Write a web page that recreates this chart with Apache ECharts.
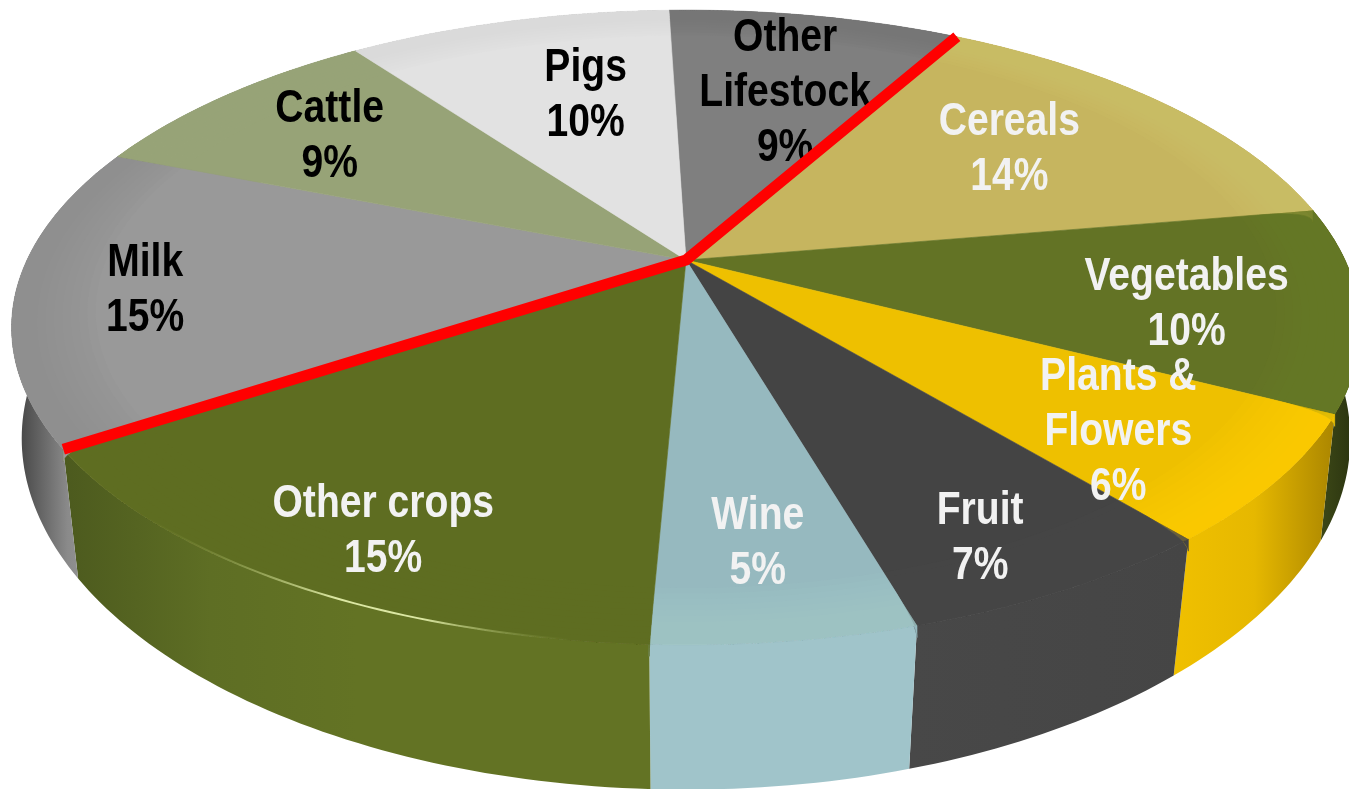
<!DOCTYPE html>
<html>
<head>
<meta charset="utf-8">
<title>Farm output shares</title>
<style>
    html, body { margin: 0; padding: 0; background: #fff; }
    #chart { width: 1349px; height: 789px; }
</style>
<script src="https://cdn.jsdelivr.net/npm/echarts@6/dist/echarts.min.js"></script>
</head>
<body>
<div id="chart"></div>
<script>
// slices run clockwise, starting at the top of the pie
var names = ['Other\nLifestock', 'Cereals', 'Vegetables', 'Plants &\nFlowers', 'Fruit', 'Wine', 'Other crops', 'Milk', 'Cattle', 'Pigs'];
var shares = [8.6, 14.2, 10.3, 6.4, 6.5, 5.2, 15.0, 15.3, 9.0, 9.5];

var topColors = ['#7f7f7f', '#c6b55f', '#637325', '#eec000', '#444444', '#96b9bf', '#5e6d21', '#999999', '#97a377', '#e2e2e2'];
var rimColors = ['#757575', '#d0bf6a', '#6b7d28', '#ffcc00', '#484848', '#a0c4ca', '#637324', '#8c8c8c', '#9ba77c', '#dcdcdc'];
var sideStops = [
    ['#777', '#777'],
    ['#b5a555', '#b5a555'],
    ['#44501a', '#27300e'],
    ['#f0c000', '#e6b800', '#ab8600'],
    ['#484848', '#454545'],
    ['#a0c4ca', '#a0c4ca'],
    ['#4c5a1e', '#5e6e24', '#637324', '#637324', '#637324'],
    ['#3c3c3c', '#8a8a8a', '#a8a8a8'],
    ['#888', '#888'],
    ['#ccc', '#ccc']
];
var labelColors = ['#000', '#f2f2f2', '#f2f2f2', '#f2f2f2', '#f2f2f2', '#f2f2f2', '#f2f2f2', '#000', '#000', '#000'];

// label placement on the unit disc: distance from the hub, clockwise degrees from the top
var labelRadius = [0.66, 0.67, 0.75, 0.77, 0.85, 0.78, 0.84, 0.81, 0.75, 0.65];
var labelAngle = [15, 52.7, 100.3, 130.4, 153.9, 173.3, 207.4, 263.6, 307.7, 344.6];

// the red divider follows these two slice boundaries
var dividerBoundaries = [7, 1];

var startAngle = -1.8;
var hub = [686, 260];
var scaleX = 659, scaleY = 303, tilt = 0.2126;
var depth = 114;

function project(deg, r) {
    var a = deg * Math.PI / 180;
    var u = Math.sin(a) * r, v = Math.cos(a) * r;
    var w = 1 + tilt * v;
    return [hub[0] + scaleX * u / w, hub[1] - scaleY * v / w];
}

function projectBase(deg) {
    var v = Math.cos(deg * Math.PI / 180);
    var p = project(deg, 1);
    var shrink = 0.99 + 0.025 * Math.min(v, 0);
    return [hub[0] + (p[0] - hub[0]) * shrink, p[1] + depth / (1 + tilt * v)];
}

var total = shares.reduce(function (s, x) { return s + x; }, 0);
var bounds = [startAngle];
shares.forEach(function (x, i) {
    bounds.push(bounds[i] + x / total * 360);
});

function arc(fn, from, to) {
    var pts = [], n = Math.max(2, Math.ceil(Math.abs(to - from)));
    for (var i = 0; i <= n; i++) {
        pts.push(fn(from + (to - from) * i / n));
    }
    return pts;
}

// ray from the hub to the rim, bending downwards where the edge rolls over
function edge(deg) {
    var rim = project(deg, 1);
    var pts = [hub.slice()];
    if (Math.cos(deg * Math.PI / 180) > 0.2) {
        pts.push(rim);
        return pts;
    }
    var p0 = project(deg, 0.91);
    var end = [rim[0], rim[1] + 12];
    for (var t = 0; t <= 1.001; t += 0.125) {
        var s = 1 - t;
        pts.push([
            s * s * p0[0] + 2 * s * t * rim[0] + t * t * end[0],
            s * s * p0[1] + 2 * s * t * rim[1] + t * t * end[1]
        ]);
    }
    return pts;
}

function renderSide(params) {
    var i = params.dataIndex;
    var from = bounds[i], to = bounds[i + 1];
    var pts = arc(function (d) { return project(d, 1); }, from, to)
        .concat(arc(projectBase, to, from));
    var stops = sideStops[i].map(function (c, k, all) {
        return { offset: k / (all.length - 1), color: c };
    });
    return {
        type: 'polygon',
        shape: { points: pts },
        style: { fill: new echarts.graphic.LinearGradient(0, 0, 1, 0, stops) }
    };
}

function renderTop(params) {
    var i = params.dataIndex;
    var from = bounds[i], to = bounds[i + 1];
    var pts = edge(from)
        .concat(arc(function (d) { return project(d, 1); }, from, to))
        .concat(edge(to).reverse());
    var children = [{
        type: 'polygon',
        shape: { points: pts },
        style: { fill: topColors[i], stroke: topColors[i], lineWidth: 0.6 }
    }];
    // soft rolled rim, built from thin rings
    for (var j = 0; j < 10; j++) {
        var inner = 1 - (j + 1) * 0.012;
        children.push({
            type: 'polygon',
            shape: {
                points: arc(function (d) { return project(d, 1); }, from, to)
                    .concat(arc(function (d) { return project(d, inner); }, to, from))
            },
            style: { fill: rimColors[i], opacity: 0.16 }
        });
    }
    return { type: 'group', children: children };
}

function renderLabel(params) {
    var i = params.dataIndex;
    var p = project(labelAngle[i], labelRadius[i]);
    return {
        type: 'text',
        x: p[0],
        y: p[1] + 3,
        scaleX: 0.85,
        style: {
            x: 0,
            y: 0,
            text: names[i] + '\n' + Math.round(shares[i]) + '%',
            align: 'center',
            verticalAlign: 'middle',
            fontFamily: '"Liberation Sans", Arial, sans-serif',
            fontWeight: 'bold',
            fontSize: 46,
            lineHeight: 55,
            fill: labelColors[i]
        }
    };
}

function renderGlint() {
    return {
        type: 'polyline',
        shape: { points: arc(function (d) { return project(d, 0.999); }, 188, 224) },
        style: {
            fill: 'none',
            lineWidth: 2,
            stroke: new echarts.graphic.LinearGradient(0, 0, 1, 0, [
                { offset: 0, color: 'rgba(120,140,50,0)' },
                { offset: 0.45, color: 'rgba(226,238,170,0.95)' },
                { offset: 0.65, color: 'rgba(226,238,170,0.95)' },
                { offset: 1, color: 'rgba(120,140,50,0)' }
            ])
        }
    };
}

function renderDivider() {
    return {
        type: 'polyline',
        shape: {
            points: [
                project(bounds[dividerBoundaries[0]], 1),
                hub.slice(),
                project(bounds[dividerBoundaries[1]], 1)
            ]
        },
        style: { fill: 'none', stroke: '#ff0000', lineWidth: 11, lineJoin: 'miter' }
    };
}

var chart = echarts.init(document.getElementById('chart'));
var sliceData = shares.map(function (x) { return [x]; });
var option = {
    backgroundColor: '#fff',
    animation: false,
    series: [
        { type: 'custom', coordinateSystem: 'none', silent: true, z: 1, data: sliceData, renderItem: renderSide },
        { type: 'custom', coordinateSystem: 'none', silent: true, z: 2, data: sliceData, renderItem: renderTop },
        { type: 'custom', coordinateSystem: 'none', silent: true, z: 3, data: [[0]], renderItem: renderGlint },
        { type: 'custom', coordinateSystem: 'none', silent: true, z: 4, data: sliceData, renderItem: renderLabel },
        { type: 'custom', coordinateSystem: 'none', silent: true, z: 5, data: [[0]], renderItem: renderDivider }
    ]
};
chart.setOption(option);
</script>
</body>
</html>
